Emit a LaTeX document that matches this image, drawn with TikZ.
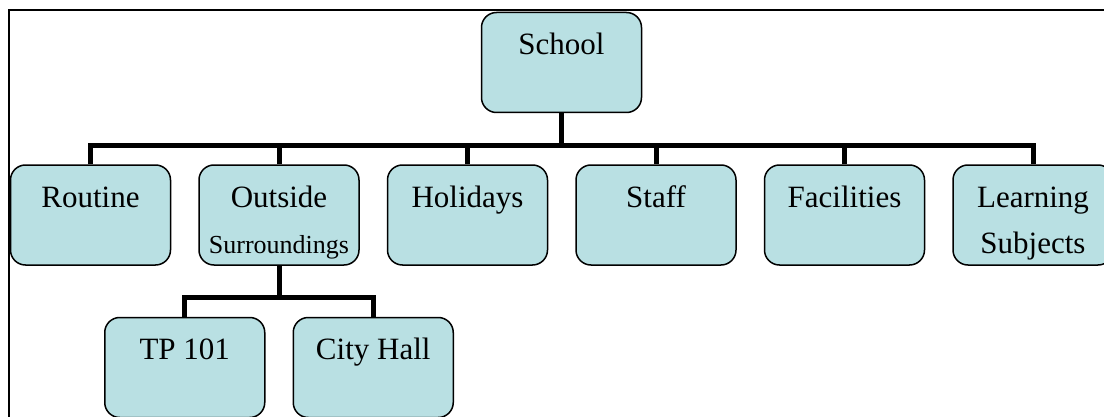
\documentclass[tikz,border=0pt]{standalone}
\usepackage{fontspec}
\setmainfont{Liberation Serif}
\usetikzlibrary{positioning}
\definecolor{boxfill}{RGB}{185,224,227}
\tikzset{
  unit/.style={draw,line width=1.5pt,fill=boxfill,rounded corners=15pt,minimum width=160pt,minimum height=100pt,inner sep=0pt,align=center,font=\fontsize{31}{46}\selectfont,text height=88pt,text depth=12pt},
  smalltext/.style={font=\fontsize{26}{46}\selectfont},
  link/.style={line width=5pt},
  frame/.style={line width=2.5pt},
}
\begin{document}
\begin{tikzpicture}[x=1pt,y=1pt]
  \clip (0,0) rectangle (1104,416);
  \draw[frame] (9,-5) |- (1110,406);
  \node[unit] (school) at (561.5,353.5) {School\\~};
  \node[unit] (routine) at (90.5,201) {Routine\\~};
  \node[unit,right=27pt of routine] (outside) {Outside\\{\fontsize{26}{46}\selectfont Surroundings}};
  \node[unit,right=27pt of outside] (holidays) {Holidays\\~};
  \node[unit,right=27pt of holidays] (staff) {Staff\\~};
  \node[unit,right=27pt of staff] (facilities) {Facilities\\~};
  \node[unit,right=27pt of facilities] (learning) {Learning\\Subjects};
  \node[unit,below=51pt of outside,xshift=-94.25pt] (tp) {TP 101\\~};
  \node[unit,right=27pt of tp] (cityhall) {City Hall\\~};
  \foreach \kid in {routine,outside,holidays,staff,facilities,learning}
    \draw[link] (\kid.north) -- ++(0,18.5) -| (school.south);
  \foreach \kid in {tp,cityhall}
    \draw[link] (\kid.north) -- ++(0,19) -| (outside.south);
\end{tikzpicture}
\end{document}
